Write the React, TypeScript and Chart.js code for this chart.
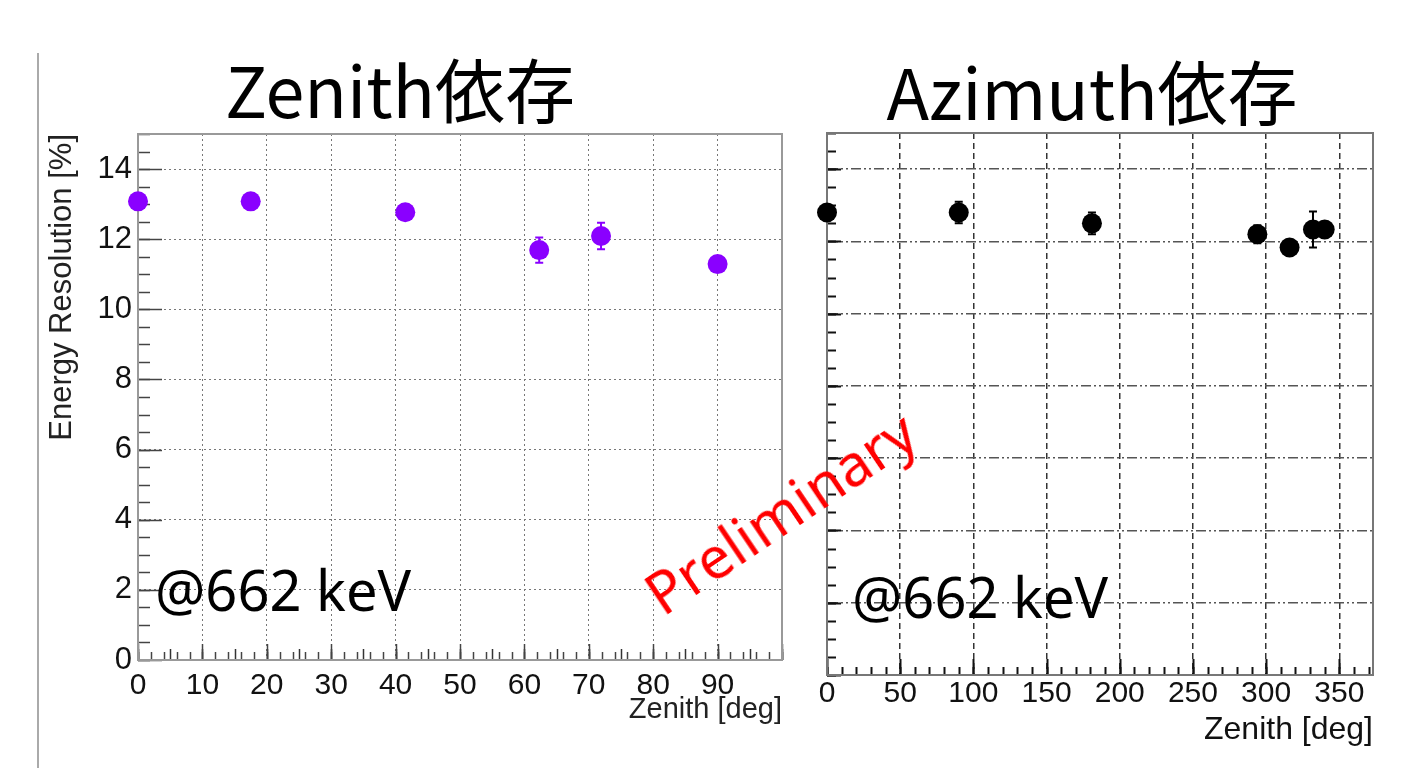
import React, { useEffect, useRef } from "react";
import { Chart, registerables } from "chart.js";
Chart.register(...registerables);

// ---- data ----
const zenithAngles = [0, 17.5, 41.5, 62.3, 71.9, 90];
const zenithResolution = [13.08, 13.08, 12.77, 11.69, 12.09, 11.29];
const zenithError = [0.12, 0.12, 0.12, 0.36, 0.38, 0.12];

const azimuthAngles = [0, 90, 181, 294, 316, 332, 340];
const azimuthResolution = [12.8, 12.8, 12.5, 12.2, 11.83, 12.33, 12.33];
const azimuthError = [0.2, 0.3, 0.3, 0.25, 0.2, 0.5, 0.15];

const resolutionTicks = [0, 2, 4, 6, 8, 10, 12, 14];
const zenithTicks = [0, 10, 20, 30, 40, 50, 60, 70, 80, 90, 100];
const azimuthTicks = [0, 50, 100, 150, 200, 250, 300, 350];

const yTitle = "Energy Resolution [%]";
const xTitle = "Zenith [deg]";
const leftTitle = "Zenith依存";
const rightTitle = "Azimuth依存";
const energyNote = "@662 keV";
const watermark = "Preliminary";

const AX_FONT = "'Liberation Sans', Arial, Helvetica, sans-serif";

type TickSpec = { axis: "x" | "y"; step: number; len: number; color: string; width: number };

function makeDecorPlugin(ticks: TickSpec[], frameColor: string, frameWidth: number) {
  return {
    id: "decor",
    beforeDatasetsDraw(chart: any) {
      const { ctx, chartArea } = chart;
      const xs = chart.scales.x;
      const ys = chart.scales.y;
      ctx.save();
      ticks.forEach((t) => {
        ctx.strokeStyle = t.color;
        ctx.lineWidth = t.width;
        ctx.setLineDash([]);
        const sc = t.axis === "x" ? xs : ys;
        const n = Math.round((sc.max - sc.min) / t.step);
        for (let i = 0; i <= n; i++) {
          const v = sc.min + i * t.step;
          if (v > sc.max + 1e-9) break;
          const p = Math.round(sc.getPixelForValue(v)) + 0.5;
          ctx.beginPath();
          if (t.axis === "x") {
            ctx.moveTo(p, chartArea.bottom);
            ctx.lineTo(p, chartArea.bottom - t.len);
          } else {
            ctx.moveTo(chartArea.left, p);
            ctx.lineTo(chartArea.left + t.len, p);
          }
          ctx.stroke();
        }
      });
      ctx.strokeStyle = frameColor;
      ctx.lineWidth = frameWidth;
      ctx.strokeRect(chartArea.left, chartArea.top, chartArea.right - chartArea.left, chartArea.bottom - chartArea.top);
      chart.data.datasets.forEach((ds: any, di: number) => {
        const meta = chart.getDatasetMeta(di);
        ctx.strokeStyle = ds.backgroundColor;
        ctx.lineWidth = 2;
        meta.data.forEach((pt: any, j: number) => {
          const v = ds.data[j].y;
          const e = ds.errors[j];
          const y1 = ys.getPixelForValue(v + e);
          const y2 = ys.getPixelForValue(v - e);
          ctx.beginPath();
          ctx.moveTo(pt.x, y1);
          ctx.lineTo(pt.x, y2);
          ctx.moveTo(pt.x - 4, y1);
          ctx.lineTo(pt.x + 4, y1);
          ctx.moveTo(pt.x - 4, y2);
          ctx.lineTo(pt.x + 4, y2);
          ctx.stroke();
        });
      });
      ctx.restore();
    },
  };
}

function setTicks(values: number[]) {
  return (scale: any) => {
    scale.ticks = values.map((v) => ({ value: v }));
  };
}

export default function App() {
  const leftRef = useRef<HTMLCanvasElement | null>(null);
  const rightRef = useRef<HTMLCanvasElement | null>(null);

  useEffect(() => {
    const leftChart = new Chart(leftRef.current as HTMLCanvasElement, {
      type: "scatter",
      data: {
        datasets: [
          {
            label: "zenith",
            data: zenithAngles.map((x, i) => ({ x, y: zenithResolution[i] })),
            errors: zenithError,
            backgroundColor: "#8a00ff",
            borderWidth: 0,
            pointRadius: 10,
            pointHoverRadius: 10,
            clip: false,
          } as any,
        ],
      },
      options: {
        responsive: false,
        animation: false,
        events: [],
        layout: { padding: { top: 14, right: 18, left: 0, bottom: 0 } },
        plugins: { legend: { display: false }, tooltip: { enabled: false } },
        scales: {
          x: {
            type: "linear",
            min: 0,
            max: 100,
            afterBuildTicks: setTicks(zenithTicks),
            afterFit: (s: any) => {
              s.height = 67;
            },
            grid: { color: "#777", lineWidth: 1, drawTicks: false },
            border: { display: true, color: "#999", width: 2, dash: [2, 3] },
            ticks: {
              padding: 8,
              color: "#111",
              autoSkip: false,
              font: { family: AX_FONT, size: 30 },
              maxRotation: 0,
              callback: (v: any) => (v === 100 ? "" : String(v)),
            },
            title: {
              display: true,
              text: xTitle,
              align: "end",
              color: "#222",
              font: { family: AX_FONT, size: 29 },
              padding: { top: 0, bottom: 0 },
            },
          },
          y: {
            type: "linear",
            min: 0,
            max: 15,
            afterBuildTicks: setTicks(resolutionTicks),
            afterFit: (s: any) => {
              s.width = 98;
            },
            grid: { color: "#777", lineWidth: 1, drawTicks: false },
            border: { display: true, color: "#999", width: 2, dash: [2, 3] },
            ticks: {
              padding: 6,
              color: "#111",
              autoSkip: false,
              font: { family: AX_FONT, size: 31, lineHeight: 0.4 },
            },
            title: {
              display: true,
              text: yTitle,
              align: "end",
              color: "#222",
              font: { family: AX_FONT, size: 31 },
              padding: { top: 4, bottom: 0 },
            },
          },
        },
      } as any,
      plugins: [
        makeDecorPlugin(
          [
            { axis: "y", step: 0.5, len: 12, color: "#444", width: 1.5 },
            { axis: "y", step: 2, len: 24, color: "#444", width: 1.5 },
            { axis: "x", step: 2, len: 8, color: "#444", width: 1.5 },
            { axis: "x", step: 5, len: 11, color: "#333", width: 1.5 },
            { axis: "x", step: 10, len: 16, color: "#444", width: 1.5 },
          ],
          "#999",
          2
        ),
      ],
    });

    const rightChart = new Chart(rightRef.current as HTMLCanvasElement, {
      type: "scatter",
      data: {
        datasets: [
          {
            label: "azimuth",
            data: azimuthAngles.map((x, i) => ({ x, y: azimuthResolution[i] })),
            errors: azimuthError,
            backgroundColor: "#000000",
            borderWidth: 0,
            pointRadius: 10,
            pointHoverRadius: 10,
            clip: false,
          } as any,
        ],
      },
      options: {
        responsive: false,
        animation: false,
        events: [],
        layout: { padding: { top: 13, right: 27, left: 0, bottom: 1 } },
        plugins: { legend: { display: false }, tooltip: { enabled: false } },
        scales: {
          x: {
            type: "linear",
            min: 0,
            max: 373,
            afterBuildTicks: setTicks(azimuthTicks),
            afterFit: (s: any) => {
              s.height = 74;
            },
            grid: { color: "#333", lineWidth: 1.5, drawTicks: false },
            border: { display: true, color: "#222", width: 2, dash: [6, 4] },
            ticks: {
              padding: 1,
              color: "#111",
              autoSkip: false,
              font: { family: AX_FONT, size: 30 },
              maxRotation: 0,
            },
            title: {
              display: true,
              text: xTitle,
              align: "end",
              color: "#111",
              font: { family: AX_FONT, size: 32 },
              padding: { top: 0, bottom: 0 },
            },
          },
          y: {
            type: "linear",
            min: 0,
            max: 15,
            afterBuildTicks: setTicks(resolutionTicks),
            afterFit: (s: any) => {
              s.width = 27;
            },
            grid: { color: "#555", lineWidth: 1.5, drawTicks: false },
            border: { display: true, color: "#222", width: 2, dash: [10, 3, 2, 3, 2, 3] },
            ticks: { display: false },
          },
        },
      } as any,
      plugins: [
        makeDecorPlugin(
          [
            { axis: "y", step: 0.5, len: 9, color: "#111", width: 2 },
            { axis: "y", step: 2, len: 14, color: "#111", width: 2 },
            { axis: "x", step: 10, len: 8, color: "#111", width: 2 },
            { axis: "x", step: 50, len: 16, color: "#111", width: 2 },
          ],
          "#777",
          2
        ),
      ],
    });

    return () => {
      leftChart.destroy();
      rightChart.destroy();
    };
  }, []);

  const cjk = "'Comic Sans MS', 'Noto Sans CJK JP', 'Noto Sans', sans-serif";
  const latin = "'Comic Sans MS', 'Noto Sans', sans-serif";

  return (
    <div
      style={{
        position: "absolute",
        left: 0,
        top: 0,
        width: 1418,
        height: 768,
        background: "#fff",
        overflow: "hidden",
      }}
    >
      <div style={{ position: "absolute", left: 37, top: 53, width: 2, height: 715, background: "#aaa" }} />
      <canvas
        ref={leftRef}
        width={760}
        height={607}
        style={{ position: "absolute", left: 40, top: 120, width: 760, height: 607 }}
      />
      <canvas
        ref={rightRef}
        width={600}
        height={630}
        style={{ position: "absolute", left: 800, top: 120, width: 600, height: 630 }}
      />
      <div
        style={{
          position: "absolute",
          left: 100,
          width: 600,
          top: 53,
          textAlign: "center",
          fontFamily: cjk,
          fontSize: 70,
          lineHeight: "70px",
          color: "#000",
          whiteSpace: "nowrap",
        }}
      >
        {leftTitle}
      </div>
      <div
        style={{
          position: "absolute",
          left: 792,
          width: 600,
          top: 55,
          textAlign: "center",
          fontFamily: cjk,
          fontSize: 70,
          lineHeight: "70px",
          color: "#000",
          whiteSpace: "nowrap",
        }}
      >
        {rightTitle}
      </div>
      <div
        style={{
          position: "absolute",
          left: 155,
          top: 561,
          fontFamily: latin,
          fontSize: 56,
          lineHeight: "56px",
          color: "#000",
          whiteSpace: "nowrap",
        }}
      >
        {energyNote}
      </div>
      <div
        style={{
          position: "absolute",
          left: 852,
          top: 568,
          fontFamily: latin,
          fontSize: 56,
          lineHeight: "56px",
          color: "#000",
          whiteSpace: "nowrap",
        }}
      >
        {energyNote}
      </div>
      <div
        style={{
          position: "absolute",
          left: 780,
          top: 512,
          transform: "translate(-50%, -50%) rotate(-34deg)",
          fontFamily: latin,
          fontSize: 58,
          lineHeight: "58px",
          color: "#ff0000",
          whiteSpace: "nowrap",
        }}
      >
        {watermark}
      </div>
    </div>
  );
}
